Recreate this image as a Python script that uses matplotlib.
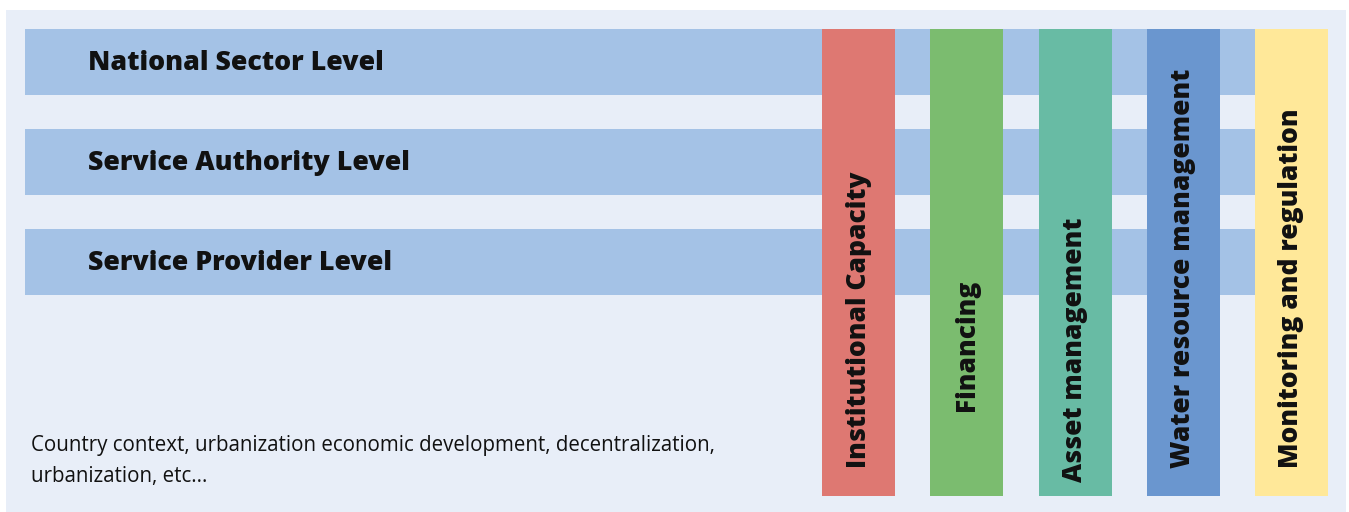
import matplotlib
matplotlib.use("Agg")
import matplotlib.pyplot as plt
from matplotlib.patches import Rectangle

levels = ["National Sector Level", "Service Authority Level", "Service Provider Level"]
pillars = ["Institutional Capacity", "Financing", "Asset management",
           "Water resource management", "Monitoring and regulation"]
pillar_colors = ["#DE7872", "#7BBC6F", "#68BBA4", "#6A96CF", "#FFE899"]
context_text = "Country context, urbanization economic development, decentralization,\nurbanization, etc..."

# layout (pixel space)
W, H = 1349, 512
bg_color = "#E8EEF8"
band_color = "#A4C2E6"
band_x0, band_x1 = 25, 1258
band_tops = [29, 129, 229]
band_h = 66
col_x0 = [822, 930, 1039, 1147, 1255]
col_w = 73
col_top, col_bot = 29, 496
text_bottoms = [468, 411, 482, 468, 468]

plt.rcParams['font.family'] = ['Open Sans', 'DejaVu Sans']
fig = plt.figure(figsize=(W / 100, H / 100), dpi=100)
ax = fig.add_axes([0, 0, 1, 1])
ax.set_xlim(0, W)
ax.set_ylim(H, 0)
ax.axis("off")

ax.add_patch(Rectangle((6, 10), 1340, 510, color=bg_color, lw=0))

for top, lab in zip(band_tops, levels):
    ax.add_patch(Rectangle((band_x0, top), band_x1 - band_x0, band_h, color=band_color, lw=0))
    ax.text(88, top + band_h / 2 + 1.5, lab, fontsize=19.3, fontweight=800,
            ha="left", va="center", color="#111111")

for x0, lab, c, yb in zip(col_x0, pillars, pillar_colors, text_bottoms):
    ax.add_patch(Rectangle((x0, col_top), col_w, col_bot - col_top, color=c, lw=0))
    ax.text(x0 + col_w / 2, yb, lab, rotation=90, rotation_mode="anchor",
            fontsize=19, fontweight=800, ha="left", va="center", color="#111111")

ax.text(31, 461, context_text, fontsize=14.8, ha="left", va="center",
        color="#111111", linespacing=1.65)

fig.savefig("out.png", dpi=100)
